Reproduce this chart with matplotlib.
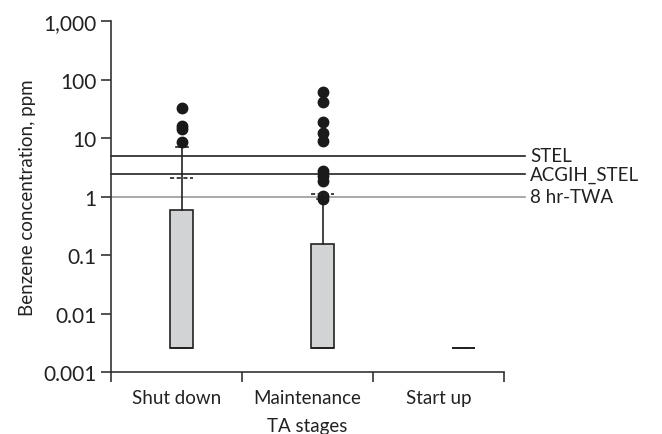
import numpy as np
import matplotlib
matplotlib.use("Agg")
import matplotlib.pyplot as plt
import matplotlib.ticker as mticker

plt.rcParams['font.family'] = ['Lato', 'DejaVu Sans']

# ------------------------------------------------------------------------------------------
# data
stages = ["Shut down", "Maintenance", "Start up"]
box_pos = [0.54, 1.615, 2.69]

q1 = [0.0026, 0.0026, 0.0026]
med = [0.0026, 0.0026, 0.0026]
q3 = [0.59, 0.157, 0.0026]
whis_lo = [0.0026, 0.0026, 0.0026]
whis_hi = [7.2, 0.92, 0.0026]
means = [2.07, 1.12, 0.0026]
fliers = [
    [33.0, 16.3, 14.5, 8.6],
    [63.0, 41.5, 19.3, 12.2, 8.9, 2.8, 2.24, 1.89, 1.045, 0.92],
    [],
]

limit_names = ["STEL", "ACGIH_STEL", "8 hr-TWA"]
limit_values = [5.0, 2.45, 1.0]
limit_colors = ["#222222", "#222222", "#9a9a9a"]

fs = 13.5

# ------------------------------------------------------------------------------------------
fig = plt.figure(figsize=(6.62, 4.35), dpi=100)
ax = fig.add_axes([0.1677, 0.1425, 0.5937, 0.8058])

stats = []
for i in range(len(stages)):
    stats.append(dict(label=stages[i], q1=q1[i], med=med[i], q3=q3[i],
                      whislo=whis_lo[i], whishi=whis_hi[i], mean=means[i],
                      fliers=fliers[i]))

ax.bxp(stats, positions=box_pos, widths=0.176, capwidths=0.09,
       patch_artist=True, showmeans=True, meanline=True, manage_ticks=False,
       boxprops=dict(facecolor="#d2d3d5", edgecolor="#222222", linewidth=1.2),
       whiskerprops=dict(color="#222222", linewidth=1.2),
       capprops=dict(color="#222222", linewidth=1.2),
       medianprops=dict(color="#222222", linewidth=1.2),
       meanprops=dict(color="#222222", linestyle=(0, (2.5, 1.5)), linewidth=1.2),
       flierprops=dict(marker="o", markerfacecolor="#1a1a1a", markeredgecolor="#1a1a1a",
                       markersize=7.5))

# reference limits, lines run a bit past the axes
for name, val, col in zip(limit_names, limit_values, limit_colors):
    ax.plot([0, 1.053], [val, val], transform=ax.get_yaxis_transform(),
            color=col, linewidth=1.2, clip_on=False, zorder=1)
    ax.text(1.066, val, name, transform=ax.get_yaxis_transform(),
            va="center", ha="left", fontsize=fs, color="#222222")

ax.set_yscale("log")
ax.set_ylim(0.001, 1000)
ax.set_xlim(0, 3)
ax.yaxis.set_major_locator(mticker.FixedLocator([0.001, 0.01, 0.1, 1, 10, 100, 1000]))
ax.yaxis.set_major_formatter(mticker.FixedFormatter(["0.001", "0.01", "0.1", "1", "10", "100", "1,000"]))
ax.yaxis.set_minor_locator(mticker.NullLocator())

ax.set_xticks([0, 1, 2, 3])
ax.set_xticklabels([])
ax.set_xticks([0.5, 1.5, 2.5], minor=True)
ax.set_xticklabels(stages, minor=True)
ax.tick_params(axis="x", which="minor", length=0, pad=12)
ax.tick_params(axis="both", which="major", length=7, width=1.2, color="#333333",
               labelsize=fs, labelcolor="#222222")
ax.tick_params(axis="y", which="major", labelsize=15)
ax.tick_params(axis="x", which="minor", labelsize=fs, labelcolor="#222222")

for side in ["top", "right"]:
    ax.spines[side].set_visible(False)
for side in ["left", "bottom"]:
    ax.spines[side].set_linewidth(1.2)
    ax.spines[side].set_color("#333333")

ax.set_ylabel("Benzene concentration, ppm", fontsize=fs, color="#222222", labelpad=5)
ax.set_xlabel("TA stages", fontsize=fs, color="#222222", labelpad=8)

plt.savefig("out.png", dpi=100)
